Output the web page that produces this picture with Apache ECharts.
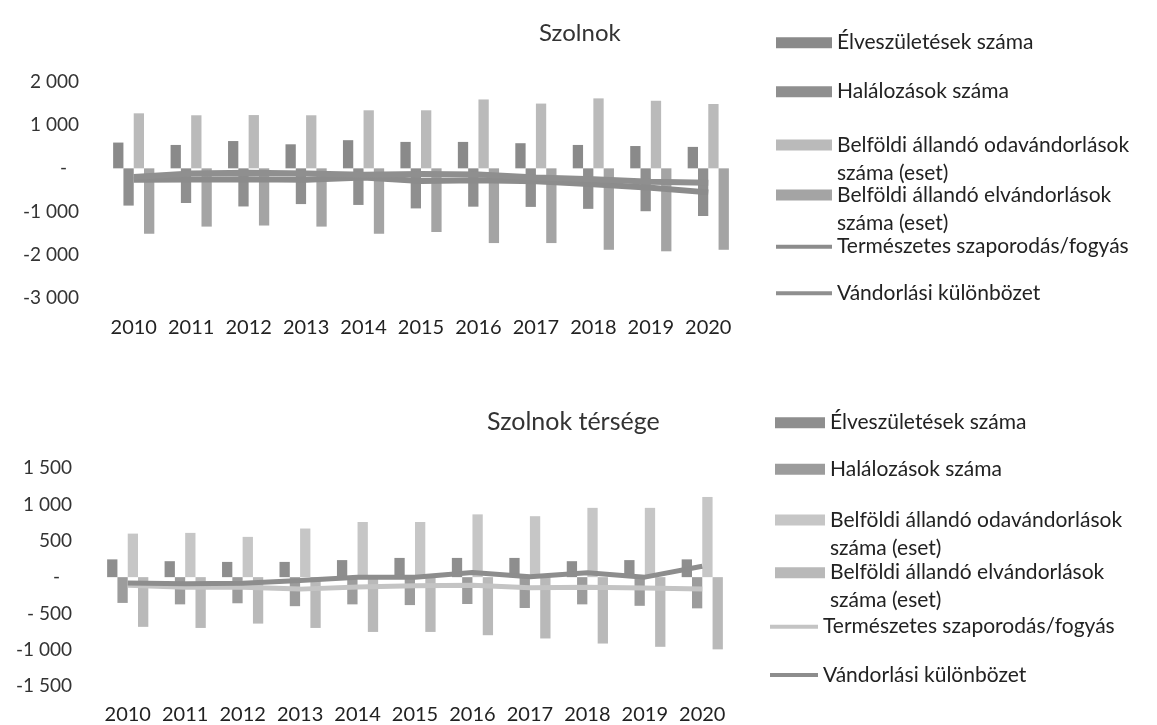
<!DOCTYPE html>
<html>
<head>
<meta charset="utf-8">
<script src="https://cdn.jsdelivr.net/npm/echarts@6/dist/echarts.min.js"></script>
<style>
  html, body { margin: 0; padding: 0; background: #fff; }
  .chartbox { position: absolute; left: 0; width: 1157px; }
  #szolnok { top: 0; height: 380px; }
  #tersege { top: 380px; height: 345px; }
</style>
</head>
<body>
<div id="szolnok" class="chartbox"></div>
<div id="tersege" class="chartbox"></div>
<script>
const years = ["2010", "2011", "2012", "2013", "2014", "2015", "2016", "2017", "2018", "2019", "2020"];

// Szolnok
const szBirths = [595, 540, 630, 555, 650, 610, 610, 580, 540, 515, 495];
const szDeaths = [-860, -800, -880, -825, -845, -925, -885, -890, -935, -990, -1100];
const szIn = [1270, 1225, 1230, 1225, 1340, 1340, 1590, 1495, 1615, 1560, 1485];
const szOut = [-1510, -1345, -1320, -1345, -1510, -1470, -1725, -1725, -1880, -1915, -1880];
const szNatural = [-265, -260, -250, -265, -210, -290, -275, -300, -370, -450, -555];
const szMigration = [-200, -120, -100, -120, -150, -130, -140, -210, -250, -310, -335];
const szTickValues = [-3000, -2000, -1000, 0, 1000, 2000];
const szTickLabels = ["-3 000", "-2 000", "-1 000", "-", "1 000", "2 000"];

// Szolnok térsége
const tBirths = [245, 220, 210, 210, 235, 265, 265, 265, 220, 235, 245];
const tDeaths = [-355, -375, -360, -400, -375, -385, -370, -425, -375, -395, -430];
const tIn = [600, 610, 555, 670, 760, 760, 865, 840, 955, 955, 1105];
const tOut = [-685, -700, -640, -700, -755, -755, -800, -845, -915, -960, -995];
const tNatural = [-110, -140, -140, -165, -135, -120, -110, -145, -140, -150, -165];
const tMigration = [-80, -90, -85, -45, 0, 0, 65, 5, 60, 0, 150];
const tTickValues = [-1500, -1000, -500, 0, 500, 1000, 1500];
const tTickLabels = ["-1 500", "-1 000", "- 500", "-", "500", "1 000", "1 500"];

const names = [
  "Élveszületések száma",
  "Halálozások száma",
  "Belföldi állandó odavándorlások száma (eset)",
  "Belföldi állandó elvándorlások száma (eset)",
  "Természetes szaporodás/fogyás",
  "Vándorlási különbözet",
];

const FONT = "Lato";

// one legend per entry so each can sit where Excel put it;
// two-line entries get an empty first line so the swatch lines up with the first text line
function legendItem(name, y, left, w, isLine, twoLine) {
  return {
    data: [name],
    orient: "vertical",
    left: left,
    top: y - (twoLine ? 42 : 14),
    padding: 0,
    icon: "rect",
    itemWidth: w,
    itemHeight: isLine ? 4 : 11,
    selectedMode: false,
    formatter: (n) => (twoLine ? " \n" + n.replace(" száma (eset)", "\nszáma (eset)") : n),
    textStyle: {
      fontFamily: FONT,
      fontSize: 21,
      color: "#222",
      lineHeight: 28,
    },
  };
}

function buildOption(cfg) {
  const bar = (i, data, color) => ({
    name: names[i],
    type: "bar",
    data: data,
    barWidth: 10.3,
    barGap: "0%",
    itemStyle: { color: color },
  });
  const line = (i, data, color, width) => ({
    name: names[i],
    type: "line",
    data: data,
    symbol: "none",
    itemStyle: { color: color },
    lineStyle: { color: color, width: width },
  });
  return {
    animation: false,
    backgroundColor: "#fff",
    title: {
      text: cfg.title,
      left: cfg.titleLeft,
      top: cfg.titleTop,
      padding: 0,
      textStyle: { fontFamily: FONT, fontSize: cfg.titleSize, fontWeight: "normal", color: "#333" },
    },
    grid: { left: cfg.gridLeft, width: cfg.gridWidth, top: cfg.gridTop, height: cfg.gridHeight },
    legend: cfg.legend,
    xAxis: {
      type: "category",
      data: years,
      axisLine: { show: false, onZero: false },
      axisTick: { show: false },
      axisLabel: { interval: 0, margin: cfg.xMargin, fontFamily: FONT, fontSize: 20, color: "#222" },
    },
    yAxis: {
      type: "value",
      min: cfg.ticks[0],
      max: cfg.ticks[cfg.ticks.length - 1],
      interval: cfg.ticks[1] - cfg.ticks[0],
      splitLine: { show: false },
      axisLine: { show: false },
      axisTick: { show: false },
      axisLabel: {
        margin: cfg.yMargin,
        fontFamily: FONT,
        fontSize: 19,
        color: "#333",
        formatter: (v) => {
          const s = cfg.labels[cfg.ticks.indexOf(v)];
          return v === 0 ? "{z|" + s + "}" : s;
        },
        rich: { z: { fontFamily: FONT, fontSize: 19, color: "#333", padding: [0, 12, 0, 0] } },
      },
    },
    series: [
      bar(0, cfg.births, cfg.colors[0]),
      bar(1, cfg.deaths, cfg.colors[1]),
      bar(2, cfg.inflow, cfg.colors[2]),
      bar(3, cfg.outflow, cfg.colors[3]),
      line(4, cfg.natural, cfg.colors[4], cfg.lineWidth),
      line(5, cfg.migration, cfg.colors[5], cfg.lineWidth),
    ],
  };
}

const szChart = echarts.init(document.getElementById("szolnok"));
szChart.setOption(
  buildOption({
    title: "Szolnok",
    titleLeft: 539,
    titleTop: 21,
    titleSize: 24,
    gridLeft: 105,
    gridWidth: 632,
    gridTop: 81.7,
    gridHeight: 216.6,
    xMargin: 19,
    yMargin: 26,
    ticks: szTickValues,
    labels: szTickLabels,
    births: szBirths,
    deaths: szDeaths,
    inflow: szIn,
    outflow: szOut,
    natural: szNatural,
    migration: szMigration,
    colors: ["#8a8a8a", "#8f8f8f", "#bababa", "#a4a4a4", "#8c8c8c", "#8f8f8f"],
    lineWidth: 6,
    legend: [
      legendItem(names[0], 42.7, 776, 56, false, false),
      legendItem(names[1], 91.7, 776, 56, false, false),
      legendItem(names[2], 145, 776, 56, false, true),
      legendItem(names[3], 195, 776, 56, false, true),
      legendItem(names[4], 246.7, 776, 56, true, false),
      legendItem(names[5], 293.3, 776, 56, true, false),
    ],
  })
);

const tChart = echarts.init(document.getElementById("tersege"));
tChart.setOption(
  buildOption({
    title: "Szolnok térsége",
    titleLeft: 487,
    titleTop: 29,
    titleSize: 25,
    gridLeft: 99,
    gridWidth: 632,
    gridTop: 88.3,
    gridHeight: 217.7,
    xMargin: 19,
    yMargin: 27,
    ticks: tTickValues,
    labels: tTickLabels,
    births: tBirths,
    deaths: tDeaths,
    inflow: tIn,
    outflow: tOut,
    natural: tNatural,
    migration: tMigration,
    colors: ["#8e8e8e", "#9c9c9c", "#c6c6c6", "#b9b9b9", "#c4c4c4", "#8d8d8d"],
    lineWidth: 5,
    legend: [
      legendItem(names[0], 42.7, 775, 50, false, false),
      legendItem(names[1], 89.3, 775, 50, false, false),
      legendItem(names[2], 140, 775, 50, false, true),
      legendItem(names[3], 192.7, 775, 50, false, true),
      legendItem(names[4], 246.7, 770, 48, true, false),
      legendItem(names[5], 295, 770, 48, true, false),
    ],
  })
);
</script>
</body>
</html>
